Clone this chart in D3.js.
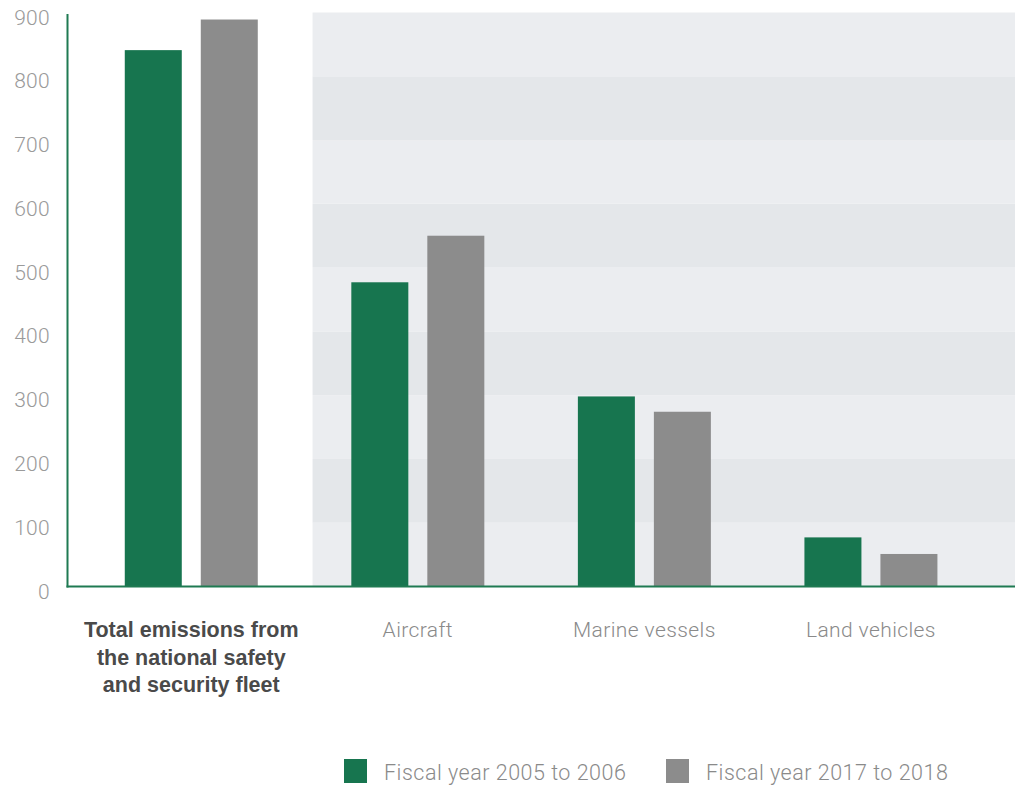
<!DOCTYPE html>
<html>
<head>
<meta charset="utf-8">
<script src="https://cdn.jsdelivr.net/npm/d3@7"></script>
<style>
  html, body { margin: 0; padding: 0; background: #ffffff; }
  svg { display: block; }
</style>
</head>
<body>
<div id="chart"></div>
<script>
const categories = ["Total emissions from the national safety and security fleet", "Aircraft", "Marine vessels", "Land vehicles"];
const categoryLines = [["Total emissions from", "the national safety", "and security fleet"], ["Aircraft"], ["Marine vessels"], ["Land vehicles"]];
const seriesNames = ["Fiscal year 2005 to 2006", "Fiscal year 2017 to 2018"];
const values2005 = [841, 477, 298, 77];
const values2017 = [889, 550, 274, 51];
const yTicks = [0, 100, 200, 300, 400, 500, 600, 700, 800, 900];

const W = 1015, H = 787;
const green = "#17754f", gray = "#8c8c8c", axisGreen = "#1f7a52";
const font = "Roboto, 'Liberation Sans', sans-serif";
const boldFont = "'Liberation Sans', Arial, sans-serif";

const svg = d3.select("#chart").append("svg").attr("width", W).attr("height", H);

const y = d3.scaleLinear().domain([0, 900]).range([586.5, 12.5]);
const x = d3.scaleBand().domain(categories).range([78, 984.2]).padding(0);
const groupW = 133;
const x1 = d3.scaleBand().domain(seriesNames).range([0, groupW]).paddingInner(0.25).paddingOuter(0);
const color = d3.scaleOrdinal().domain(seriesNames).range([green, gray]);

// shaded background with alternating stripes
const shadeX0 = x(categories[1]) + 8;
const stripes = yTicks.slice(0, -1).map((t, i) => ({ lo: t, hi: yTicks[i + 1], i }));
svg.append("g").selectAll("rect").data(stripes).join("rect")
  .attr("x", shadeX0).attr("width", W - shadeX0)
  .attr("y", d => y(d.hi)).attr("height", d => y(d.lo) - y(d.hi))
  .attr("fill", d => d.i % 2 === 0 ? "#ebedf0" : "#e4e7ea");

// bars
const rows = categories.map((c, i) => ({ c, vals: [values2005[i], values2017[i]] }));
const g = svg.append("g");
rows.forEach(r => {
  const cx = x(r.c) + x.bandwidth() / 2 - groupW / 2;
  g.selectAll(null).data(seriesNames.map((s, j) => ({ s, v: r.vals[j] }))).join("rect")
    .attr("x", d => cx + x1(d.s)).attr("width", x1.bandwidth())
    .attr("y", d => y(d.v)).attr("height", d => y(0) - y(d.v))
    .attr("fill", d => color(d.s));
});

// y axis
const yAxis = d3.axisLeft(y).tickValues(yTicks).tickSize(0).tickPadding(0).tickFormat(d3.format("d"));
const ya = svg.append("g").attr("transform", "translate(50,0)").call(yAxis);
ya.select(".domain").remove();
ya.selectAll("text").attr("fill", "#9a9a9a").attr("font-family", font).attr("font-weight", 300)
  .attr("font-size", 21).attr("letter-spacing", 0.3).attr("dy", "0.55em");

// axis lines
svg.append("line").attr("x1", 67.5).attr("x2", 67.5).attr("y1", 14).attr("y2", y(0) + 1)
  .attr("stroke", axisGreen).attr("stroke-width", 2);
svg.append("line").attr("x1", 66.5).attr("x2", W).attr("y1", y(0)).attr("y2", y(0))
  .attr("stroke", axisGreen).attr("stroke-width", 2);

// category labels
categories.forEach((c, i) => {
  const cx = x(c) + x.bandwidth() / 2;
  const bold = i === 0;
  const t = svg.append("text").attr("text-anchor", "middle")
    .attr("font-family", bold ? boldFont : font)
    .attr("font-size", bold ? 21.5 : 21).attr("font-weight", bold ? 700 : 300)
    .attr("letter-spacing", bold ? 0 : 0.4)
    .attr("fill", bold ? "#4a4a4a" : "#8a8a8a");
  categoryLines[i].forEach((ln, k) => {
    t.append("tspan").attr("x", cx).attr("y", 637 + k * 27.5).text(ln);
  });
});

// legend
const legendX = [344, 666];
seriesNames.forEach((s, i) => {
  svg.append("rect").attr("x", legendX[i]).attr("y", 759).attr("width", 23).attr("height", 24).attr("fill", color(s));
  svg.append("text").attr("x", legendX[i] + 40).attr("y", 780).attr("font-family", font)
    .attr("font-weight", 300).attr("font-size", 21.5).attr("letter-spacing", 0.5)
    .attr("fill", "#8a8a8a").text(s);
});
</script>
</body>
</html>
